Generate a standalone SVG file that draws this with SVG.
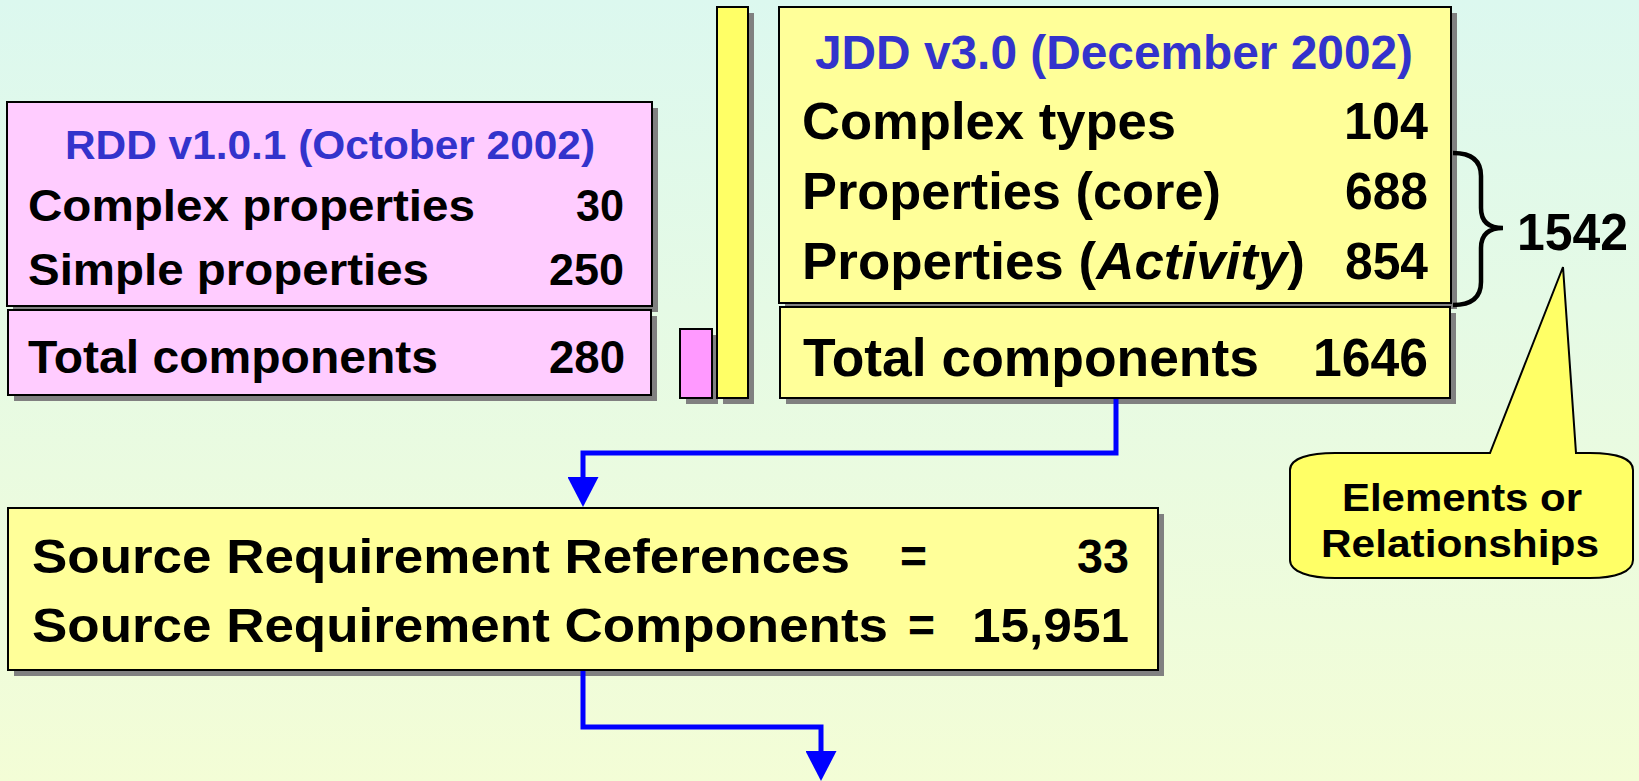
<svg xmlns="http://www.w3.org/2000/svg" width="1639" height="781" viewBox="0 0 1639 781">
<defs>
<linearGradient id="bg" x1="0" y1="0" x2="0" y2="1">
<stop offset="0" stop-color="#DCF8EF"/>
<stop offset="1" stop-color="#F3FDD6"/>
</linearGradient>
<marker id="arr" viewBox="0 0 30 31" refX="0" refY="15.5" markerWidth="30" markerHeight="31" markerUnits="userSpaceOnUse" orient="auto">
<path d="M0 0 L30 15.5 L0 31 Z" fill="#0000FF"/>
</marker>
<style>
.t{font-family:"Liberation Sans",Arial,Helvetica,sans-serif;font-weight:bold;fill:#000}
.ti{fill:#3333CC}
.sh{fill:#808080}
.pk{fill:#FFCCFF;stroke:#000;stroke-width:2}
.yl{fill:#FFFF99;stroke:#000;stroke-width:2}
.conn{fill:none;stroke:#0000FF;stroke-width:5}
</style>
</defs>
<rect x="0" y="0" width="1639" height="781" fill="url(#bg)"/>

<g id="rdd">
<rect class="sh" x="13" y="108" width="645" height="204"/>
<rect class="pk" x="7" y="102" width="645" height="204"/>
<text class="t ti" x="65" y="159" font-size="41" textLength="530" lengthAdjust="spacingAndGlyphs">RDD v1.0.1 (October 2002)</text>
<text class="t" x="28" y="221" font-size="45" textLength="447" lengthAdjust="spacingAndGlyphs">Complex properties</text>
<text class="t" x="576" y="221" font-size="45" textLength="48" lengthAdjust="spacingAndGlyphs">30</text>
<text class="t" x="28" y="285" font-size="45" textLength="401" lengthAdjust="spacingAndGlyphs">Simple properties</text>
<text class="t" x="549" y="285" font-size="45" textLength="75" lengthAdjust="spacingAndGlyphs">250</text>
</g>

<g id="rdd-total">
<rect class="sh" x="14" y="316" width="643" height="85"/>
<rect class="pk" x="8" y="310" width="643" height="85"/>
<text class="t" x="28" y="373" font-size="46" textLength="410" lengthAdjust="spacingAndGlyphs">Total components</text>
<text class="t" x="549" y="373" font-size="46" textLength="76" lengthAdjust="spacingAndGlyphs">280</text>
</g>

<g id="bar-rdd">
<rect class="sh" x="686" y="335" width="32" height="69"/>
<rect x="680" y="329" width="32" height="69" fill="#FF99FF" stroke="#000" stroke-width="2"/>
</g>

<g id="bar-jdd">
<rect class="sh" x="723" y="13" width="31" height="391"/>
<rect x="717" y="7" width="31" height="391" fill="#FFFF66" stroke="#000" stroke-width="2"/>
</g>

<g id="jdd">
<rect class="sh" x="785" y="13" width="672" height="296"/>
<rect class="yl" x="779" y="7" width="672" height="296"/>
<text class="t ti" x="815" y="69" font-size="48" textLength="598" lengthAdjust="spacingAndGlyphs">JDD v3.0 (December 2002)</text>
<text class="t" x="802" y="139" font-size="52" textLength="374" lengthAdjust="spacingAndGlyphs">Complex types</text>
<text class="t" x="1344" y="139" font-size="52" textLength="84" lengthAdjust="spacingAndGlyphs">104</text>
<text class="t" x="802" y="209" font-size="52" textLength="419" lengthAdjust="spacingAndGlyphs">Properties (core)</text>
<text class="t" x="1345" y="209" font-size="52" textLength="83" lengthAdjust="spacingAndGlyphs">688</text>
<text class="t" x="802" y="279" font-size="52" textLength="503" lengthAdjust="spacingAndGlyphs">Properties (<tspan font-style="italic">Activity</tspan>)</text>
<text class="t" x="1345" y="279" font-size="52" textLength="83" lengthAdjust="spacingAndGlyphs">854</text>
</g>

<g id="jdd-total">
<rect class="sh" x="786" y="313" width="670" height="91"/>
<rect class="yl" x="780" y="307" width="670" height="91"/>
<text class="t" x="803" y="376" font-size="54" textLength="456" lengthAdjust="spacingAndGlyphs">Total components</text>
<text class="t" x="1313" y="376" font-size="54" textLength="115" lengthAdjust="spacingAndGlyphs">1646</text>
</g>

<g id="brace">
<path d="M1453 153 Q1481 153 1481 176 L1481 208 Q1481 228 1503 228 Q1481 228 1481 248 L1481 282 Q1481 305 1453 305" fill="none" stroke="#000" stroke-width="4.5"/>
<text class="t" x="1517" y="250" font-size="51" textLength="111" lengthAdjust="spacingAndGlyphs">1542</text>
</g>

<g id="callout">
<path d="M1290 470 C1290 458 1310 453 1335 453 L1490 453 L1563 267 L1576 453 L1590 453 C1615 453 1633 458 1633 470 L1633 560 C1633 572 1615 578 1590 578 L1335 578 C1310 578 1290 572 1290 560 Z" fill="#FFFF66" stroke="#000" stroke-width="2"/>
<text class="t" x="1342" y="511" font-size="38" textLength="240" lengthAdjust="spacingAndGlyphs">Elements or</text>
<text class="t" x="1321" y="557" font-size="38" textLength="278" lengthAdjust="spacingAndGlyphs">Relationships</text>
</g>

<g id="source">
<rect class="sh" x="14" y="514" width="1150" height="162"/>
<rect class="yl" x="8" y="508" width="1150" height="162"/>
<text class="t" x="32" y="573" font-size="48" textLength="818" lengthAdjust="spacingAndGlyphs">Source Requirement References</text>
<text class="t" x="900" y="573" font-size="48" textLength="27" lengthAdjust="spacingAndGlyphs">=</text>
<text class="t" x="1077" y="573" font-size="48" textLength="52" lengthAdjust="spacingAndGlyphs">33</text>
<text class="t" x="32" y="642" font-size="48" textLength="856" lengthAdjust="spacingAndGlyphs">Source Requirement Components</text>
<text class="t" x="908" y="642" font-size="48" textLength="27" lengthAdjust="spacingAndGlyphs">=</text>
<text class="t" x="972" y="642" font-size="48" textLength="157" lengthAdjust="spacingAndGlyphs">15,951</text>
</g>

<g id="connectors">
<path class="conn" d="M1116 399 L1116 453 L583 453 L583 477" marker-end="url(#arr)"/>
<path class="conn" d="M583 671 L583 727 L821 727 L821 751" marker-end="url(#arr)"/>
</g>
</svg>
